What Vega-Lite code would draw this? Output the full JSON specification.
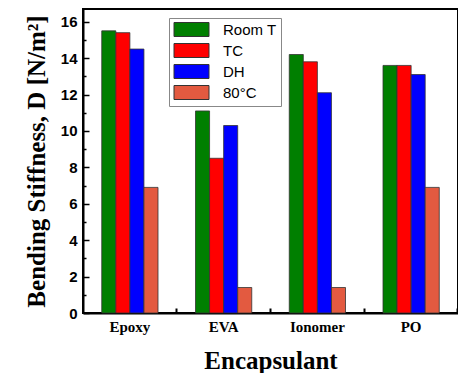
{
  "$schema": "https://vega.github.io/schema/vega-lite/v6.json",
  "width": 375,
  "height": 304,
  "autosize": {"type": "none"},
  "padding": {"left": 83, "top": 9, "right": 0, "bottom": 60},
  "background": "white",
  "config": {
    "view": {"stroke": "black", "strokeWidth": 2},
    "axis": {"domainColor": "black", "domainWidth": 2, "tickColor": "black", "grid": false, "labelColor": "black", "titleColor": "black"}
  },
  "data": {
    "values": [
      {"enc": "Epoxy", "cond": "Room T", "D": 15.5},
      {"enc": "Epoxy", "cond": "TC", "D": 15.4},
      {"enc": "Epoxy", "cond": "DH", "D": 14.5},
      {"enc": "Epoxy", "cond": "80°C", "D": 6.9},
      {"enc": "EVA", "cond": "Room T", "D": 11.1},
      {"enc": "EVA", "cond": "TC", "D": 8.5},
      {"enc": "EVA", "cond": "DH", "D": 10.3},
      {"enc": "EVA", "cond": "80°C", "D": 1.4},
      {"enc": "Ionomer", "cond": "Room T", "D": 14.2},
      {"enc": "Ionomer", "cond": "TC", "D": 13.8},
      {"enc": "Ionomer", "cond": "DH", "D": 12.1},
      {"enc": "Ionomer", "cond": "80°C", "D": 1.4},
      {"enc": "PO", "cond": "Room T", "D": 13.6},
      {"enc": "PO", "cond": "TC", "D": 13.6},
      {"enc": "PO", "cond": "DH", "D": 13.1},
      {"enc": "PO", "cond": "80°C", "D": 6.9}
    ]
  },
  "layer": [
    {
      "mark": {"type": "bar", "stroke": "#333333", "strokeWidth": 0.8},
      "encoding": {
        "x": {"field": "enc", "type": "nominal", "sort": ["Epoxy", "EVA", "Ionomer", "PO"],
          "scale": {"paddingInner": 0.4, "paddingOuter": 0.2},
          "axis": {"title": "Encapsulant", "labelAngle": 0, "ticks": false, "labelPadding": 6,
            "labelFont": "Liberation Serif", "labelFontWeight": "bold", "labelFontSize": 15,
            "titleFont": "Liberation Serif", "titleFontWeight": "bold", "titleFontSize": 25, "titlePadding": 14}},
        "xOffset": {"field": "cond", "type": "nominal", "sort": ["Room T", "TC", "DH", "80°C"], "scale": {"paddingInner": 0, "paddingOuter": 0}},
        "y": {"field": "D", "type": "quantitative",
          "scale": {"domain": [0, 16.7], "nice": false},
          "axis": {"title": "Bending Stiffness, D [N/m²]", "values": [0, 2, 4, 6, 8, 10, 12, 14, 16],
            "tickSize": -6, "tickWidth": 1.5, "labelPadding": 12,
            "labelFont": "Liberation Sans", "labelFontWeight": "bold", "labelFontSize": 15,
            "titleFont": "Liberation Serif", "titleFontWeight": "bold", "titleFontSize": 25, "titlePadding": 11}},
        "color": {"field": "cond", "type": "nominal", "sort": ["Room T", "TC", "DH", "80°C"],
          "scale": {"domain": ["Room T", "TC", "DH", "80°C"], "range": ["#007F00", "#FF0000", "#0000FF", "#E35A40"]},
          "legend": {"title": null, "orient": "none", "legendX": 86, "legendY": 9,
            "fillColor": "white", "strokeColor": "#888888", "padding": 4, "rowPadding": 2,
            "symbolType": "M-2.5,-1L2.5,-1L2.5,1L-2.5,1Z", "symbolSize": 196, "symbolOffset": 11,
            "symbolStrokeColor": "#333333", "symbolStrokeWidth": 1, "symbolOpacity": 1,
            "labelFont": "Liberation Sans", "labelFontSize": 15, "labelColor": "black", "labelOffset": 24}}
      }
    },
    {
      "mark": {"type": "bar", "opacity": 0},
      "encoding": {
        "x": {"field": "enc", "type": "nominal", "sort": ["Epoxy", "EVA", "Ionomer", "PO"],
          "axis": {"orient": "bottom", "title": null, "labels": false, "domain": false, "ticks": true, "tickSize": -5, "tickWidth": 2, "bandPosition": 1.3333}},
        "xOffset": {"field": "cond", "type": "nominal", "sort": ["Room T", "TC", "DH", "80°C"]},
        "y": {"field": "D", "type": "quantitative",
          "axis": {"orient": "left", "title": null, "labels": false, "domain": false, "values": [1, 3, 5, 7, 9, 11, 13, 15], "tickSize": -3, "tickWidth": 1.5}}
      }
    }
  ],
  "resolve": {"axis": {"x": "independent", "y": "independent"}}
}
